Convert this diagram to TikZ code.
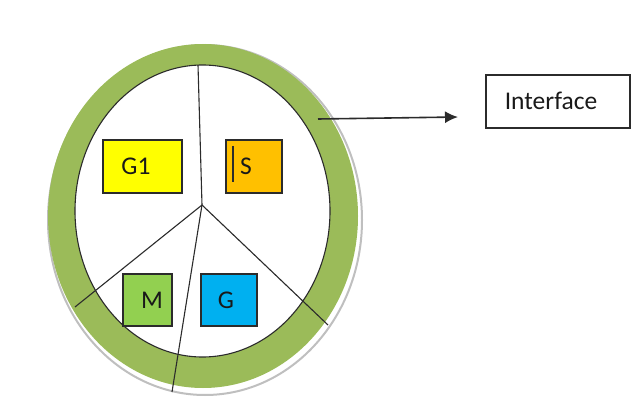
\documentclass[tikz,border=0pt]{standalone}
\usepackage{fontspec}
\setmainfont{Carlito}
\usetikzlibrary{arrows.meta}
\definecolor{band}{HTML}{9BBB59}
\definecolor{yel}{HTML}{FFFF00}
\definecolor{ora}{HTML}{FFC000}
\definecolor{mgreen}{HTML}{92D050}
\definecolor{gblue}{HTML}{00B0F0}
\definecolor{edge}{HTML}{2B2B2B}
\begin{document}
\begin{tikzpicture}[x=1pt,y=-1pt,
  box/.style={draw=edge, line width=1.3pt, inner sep=0pt},
  lbl/.style={font=\fontsize{25.5}{28}\selectfont, text=black!90, inner sep=0pt},
  divider/.style={draw=edge, line width=1.1pt}]
\useasboundingbox (0,0) rectangle (637,403);
% shadow and green band
\filldraw[fill=white, draw=black!25, line width=2pt] (205,220) ellipse [x radius=157, y radius=175];
\fill[band] (203,216) ellipse [x radius=155, y radius=172];
% inner white ellipse
\filldraw[fill=white, draw=edge, line width=1.1pt] (202.5,211) ellipse [x radius=127.5, y radius=146];
% dividers
\coordinate (c) at (202,205);
\coordinate (top) at (198,65);
\coordinate (bl) at (75,307);
\coordinate (bm) at (172,392);
\coordinate (br) at (328,325);
\draw[divider] (c) -- (top);
\draw[divider] (c) -- (bl);
\draw[divider] (c) -- (bm);
\draw[divider] (c) -- (br);
% boxes
\node[box, fill=yel, minimum width=79pt, minimum height=53pt] (g1box) at (142.5,166.5) {};
\node[lbl] (g1) at (136,166) {G1};
\node[box, fill=ora, minimum width=56pt, minimum height=53pt] (sbox) at (254,166.5) {};
\node[lbl] (s) at (246,166) {S};
\coordinate (bar1) at (233,146);
\coordinate (bar2) at (233,182);
\draw[edge, line width=1.6pt] (bar1) -- (bar2);
\node[box, fill=mgreen, minimum width=49pt, minimum height=52pt] (mbox) at (147.5,300) {};
\node[lbl] (m) at (152,300) {M};
\node[box, fill=gblue, minimum width=56pt, minimum height=52pt] (gbox) at (229,300) {};
\node[lbl] (g) at (226,300) {G};
% interface
\node[draw=edge, line width=1.3pt, minimum width=144pt, minimum height=53pt, inner sep=0pt] (ibox) at (558,101.5) {};
\node[lbl] (itext) at (551,101) {Interface};
\coordinate (a1) at (318,119);
\coordinate (a2) at (458,117);
\draw[edge, line width=1.6pt, -{Latex[length=13pt,width=12pt]}] (a1) -- (a2);
\end{tikzpicture}
\end{document}
